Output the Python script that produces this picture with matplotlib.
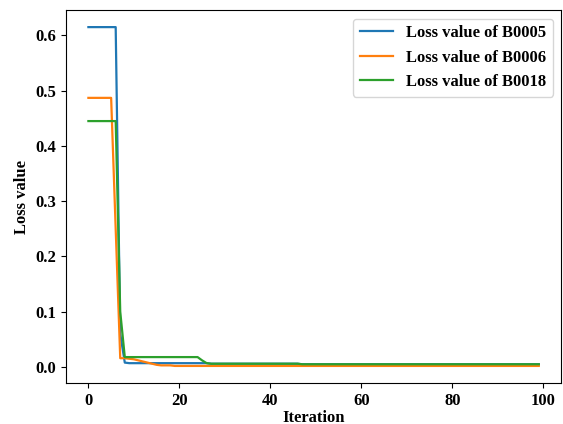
import numpy as np
import matplotlib.pyplot as plt

plt.rcParams['font.family'] = 'Liberation Serif'
plt.rcParams['font.weight'] = 'bold'

iterations = np.arange(100)

# Loss curves
b0005 = [0.615] * 7 + [0.06, 0.008] + [0.007] * 18 + [0.006] * 20 + [0.005] * 53
b0006 = ([0.487] * 6 + [0.25, 0.016, 0.016, 0.015, 0.014, 0.012, 0.010,
         0.008, 0.006, 0.004, 0.003, 0.003, 0.003, 0.002] + [0.002] * 80)
b0018 = ([0.445] * 7 + [0.10] + [0.018] * 17 + [0.012, 0.007]
         + [0.006] * 20 + [0.005] * 53)

plt.figure(figsize=(5.63, 4.24), dpi=100)
plt.plot(iterations, b0005, label='Loss value of B0005', linewidth=1.6)
plt.plot(iterations, b0006, label='Loss value of B0006', linewidth=1.6)
plt.plot(iterations, b0018, label='Loss value of B0018', linewidth=1.6)
plt.xlabel('Iteration', fontsize=12, fontweight='bold', labelpad=1)
plt.ylabel('Loss value', fontsize=12, fontweight='bold')
plt.xticks(fontsize=12, fontweight='bold')
plt.yticks(fontsize=12, fontweight='bold')
plt.legend(prop={'size': 12, 'weight': 'bold'}, loc='upper right')
plt.subplots_adjust(left=0.117, right=0.997, top=0.976, bottom=0.097)
plt.savefig('out.png')
